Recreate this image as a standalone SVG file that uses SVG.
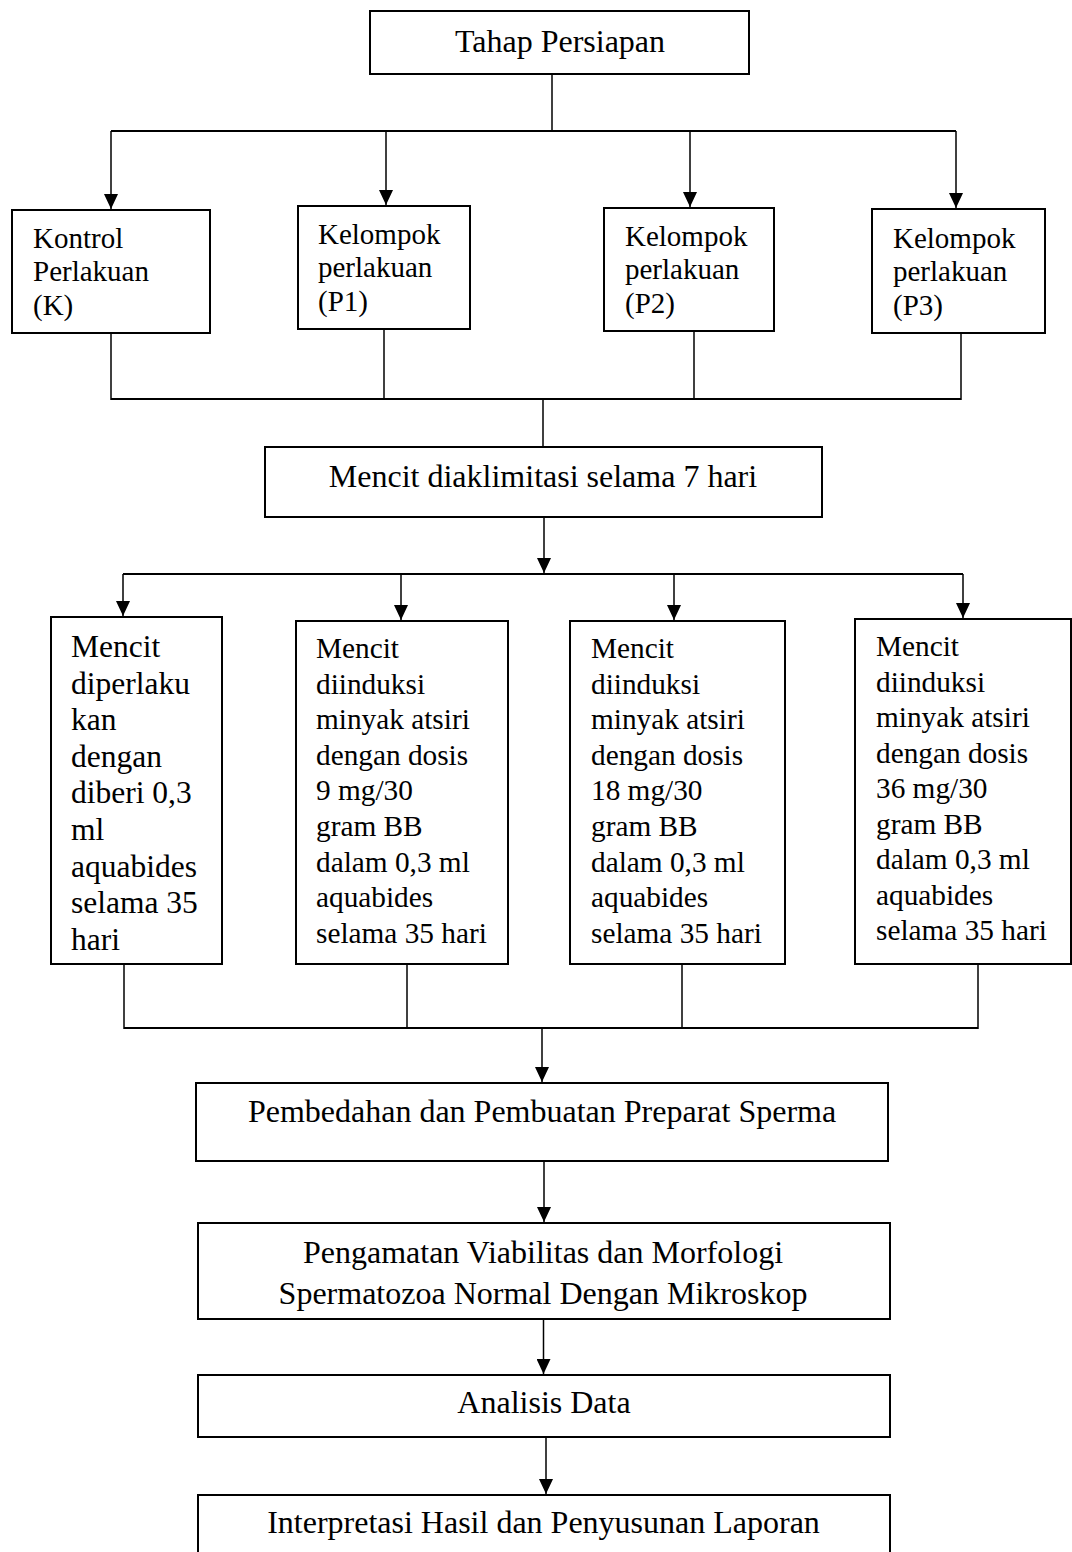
<svg xmlns="http://www.w3.org/2000/svg" width="1072" height="1552" viewBox="0 0 1072 1552">
<defs>
<style>
.box{fill:#fff;stroke:#000;stroke-width:2}
.t{font-family:"Liberation Serif","Times New Roman",serif;fill:#000}
.big{font-size:32px;text-anchor:middle}
.s29{font-size:29px}
.s295{font-size:29.3px}
.s315{font-size:31.5px}
.ln{stroke:#000;stroke-width:1.5;fill:none}
.bus{stroke:#000;stroke-width:2;fill:none}
</style>
<marker id="ah" viewBox="0 0 15 14" refX="15" refY="7" markerWidth="15" markerHeight="14" markerUnits="userSpaceOnUse" orient="auto">
<path d="M0,0 L15,7 L0,14 z" fill="#000"/>
</marker>
</defs>
<rect width="1072" height="1552" fill="#fff"/>

<g id="connectors">
<line class="ln" x1="552" y1="74" x2="552" y2="131"/>
<line class="bus" x1="111" y1="131" x2="956" y2="131"/>
<line class="ln" x1="111" y1="131" x2="111" y2="209" marker-end="url(#ah)"/>
<line class="ln" x1="386" y1="131" x2="386" y2="205" marker-end="url(#ah)"/>
<line class="ln" x1="690" y1="131" x2="690" y2="207" marker-end="url(#ah)"/>
<line class="ln" x1="956" y1="131" x2="956" y2="208" marker-end="url(#ah)"/>
<line class="ln" x1="111" y1="334" x2="111" y2="400"/>
<line class="ln" x1="384" y1="330" x2="384" y2="399"/>
<line class="ln" x1="694" y1="332" x2="694" y2="399"/>
<line class="ln" x1="961" y1="334" x2="961" y2="400"/>
<line class="bus" x1="111" y1="399" x2="961" y2="399"/>
<line class="ln" x1="543" y1="399" x2="543" y2="447"/>
<line class="ln" x1="544" y1="518" x2="544" y2="573" marker-end="url(#ah)"/>
<line class="bus" x1="123" y1="574" x2="963" y2="574"/>
<line class="ln" x1="123" y1="574" x2="123" y2="616" marker-end="url(#ah)"/>
<line class="ln" x1="401" y1="574" x2="401" y2="620" marker-end="url(#ah)"/>
<line class="ln" x1="674" y1="574" x2="674" y2="620" marker-end="url(#ah)"/>
<line class="ln" x1="963" y1="574" x2="963" y2="618" marker-end="url(#ah)"/>
<line class="ln" x1="124" y1="965" x2="124" y2="1029"/>
<line class="ln" x1="407" y1="965" x2="407" y2="1028"/>
<line class="ln" x1="682" y1="965" x2="682" y2="1028"/>
<line class="ln" x1="978" y1="965" x2="978" y2="1029"/>
<line class="bus" x1="124" y1="1028" x2="978" y2="1028"/>
<line class="ln" x1="542" y1="1028" x2="542" y2="1082" marker-end="url(#ah)"/>
<line class="ln" x1="544" y1="1162" x2="544" y2="1222" marker-end="url(#ah)"/>
<line class="ln" x1="543.5" y1="1320" x2="543.5" y2="1374" marker-end="url(#ah)"/>
<line class="ln" x1="546" y1="1438" x2="546" y2="1494" marker-end="url(#ah)"/>
</g>

<g id="tahap">
<rect class="box" x="370" y="11" width="379" height="63"/>
<text class="t big" x="560" y="52">Tahap Persiapan</text>
</g>

<g id="kontrol">
<rect class="box" x="12" y="210" width="198" height="123"/>
<text class="t s29" x="33"><tspan x="33" y="248">Kontrol</tspan><tspan x="33" y="281">Perlakuan</tspan><tspan x="33" y="315">(K)</tspan></text>
</g>
<g id="p1">
<rect class="box" x="298" y="206" width="172" height="123"/>
<text class="t s29" x="318"><tspan x="318" y="244">Kelompok</tspan><tspan x="318" y="277">perlakuan</tspan><tspan x="318" y="311">(P1)</tspan></text>
</g>
<g id="p2">
<rect class="box" x="604" y="208" width="170" height="123"/>
<text class="t s29" x="625"><tspan x="625" y="246">Kelompok</tspan><tspan x="625" y="279">perlakuan</tspan><tspan x="625" y="313">(P2)</tspan></text>
</g>
<g id="p3">
<rect class="box" x="872" y="209" width="173" height="124"/>
<text class="t s29" x="893"><tspan x="893" y="248">Kelompok</tspan><tspan x="893" y="281">perlakuan</tspan><tspan x="893" y="315">(P3)</tspan></text>
</g>

<g id="aklimitasi">
<rect class="box" x="265" y="447" width="557" height="70"/>
<text class="t big" x="543" y="487">Mencit diaklimitasi selama 7 hari</text>
</g>

<g id="m1">
<rect class="box" x="51" y="617" width="171" height="347"/>
<text class="t s315"><tspan x="71" y="657">Mencit</tspan><tspan x="71" y="693.6">diperlaku</tspan><tspan x="71" y="730.2">kan</tspan><tspan x="71" y="766.8">dengan</tspan><tspan x="71" y="803.4">diberi 0,3</tspan><tspan x="71" y="840">ml</tspan><tspan x="71" y="876.6">aquabides</tspan><tspan x="71" y="913.2">selama 35</tspan><tspan x="71" y="949.8">hari</tspan></text>
</g>
<g id="m2">
<rect class="box" x="296" y="621" width="212" height="343"/>
<text class="t s295"><tspan x="316" y="658">Mencit</tspan><tspan x="316" y="693.6">diinduksi</tspan><tspan x="316" y="729.2">minyak atsiri</tspan><tspan x="316" y="764.8">dengan dosis</tspan><tspan x="316" y="800.4">9 mg/30</tspan><tspan x="316" y="836">gram BB</tspan><tspan x="316" y="871.6">dalam 0,3 ml</tspan><tspan x="316" y="907.2">aquabides</tspan><tspan x="316" y="942.8">selama 35 hari</tspan></text>
</g>
<g id="m3">
<rect class="box" x="570" y="621" width="215" height="343"/>
<text class="t s295"><tspan x="591" y="658">Mencit</tspan><tspan x="591" y="693.6">diinduksi</tspan><tspan x="591" y="729.2">minyak atsiri</tspan><tspan x="591" y="764.8">dengan dosis</tspan><tspan x="591" y="800.4">18 mg/30</tspan><tspan x="591" y="836">gram BB</tspan><tspan x="591" y="871.6">dalam 0,3 ml</tspan><tspan x="591" y="907.2">aquabides</tspan><tspan x="591" y="942.8">selama 35 hari</tspan></text>
</g>
<g id="m4">
<rect class="box" x="855" y="619" width="216" height="345"/>
<text class="t s295"><tspan x="876" y="656">Mencit</tspan><tspan x="876" y="691.5">diinduksi</tspan><tspan x="876" y="727">minyak atsiri</tspan><tspan x="876" y="762.5">dengan dosis</tspan><tspan x="876" y="798">36 mg/30</tspan><tspan x="876" y="833.5">gram BB</tspan><tspan x="876" y="869">dalam 0,3 ml</tspan><tspan x="876" y="904.5">aquabides</tspan><tspan x="876" y="940">selama 35 hari</tspan></text>
</g>

<g id="pembedahan">
<rect class="box" x="196" y="1083" width="692" height="78"/>
<text class="t big" x="542" y="1122">Pembedahan dan Pembuatan Preparat Sperma</text>
</g>
<g id="pengamatan">
<rect class="box" x="198" y="1223" width="692" height="96"/>
<text class="t big"><tspan x="543" y="1263">Pengamatan Viabilitas dan Morfologi</tspan><tspan x="543" y="1304">Spermatozoa Normal Dengan Mikroskop</tspan></text>
</g>
<g id="analisis">
<rect class="box" x="198" y="1375" width="692" height="62"/>
<text class="t big" x="544" y="1413">Analisis Data</text>
</g>
<g id="interpretasi">
<rect class="box" x="198" y="1495" width="692" height="80"/>
<text class="t big" x="543.5" y="1533">Interpretasi Hasil dan Penyusunan Laporan</text>
</g>
</svg>
